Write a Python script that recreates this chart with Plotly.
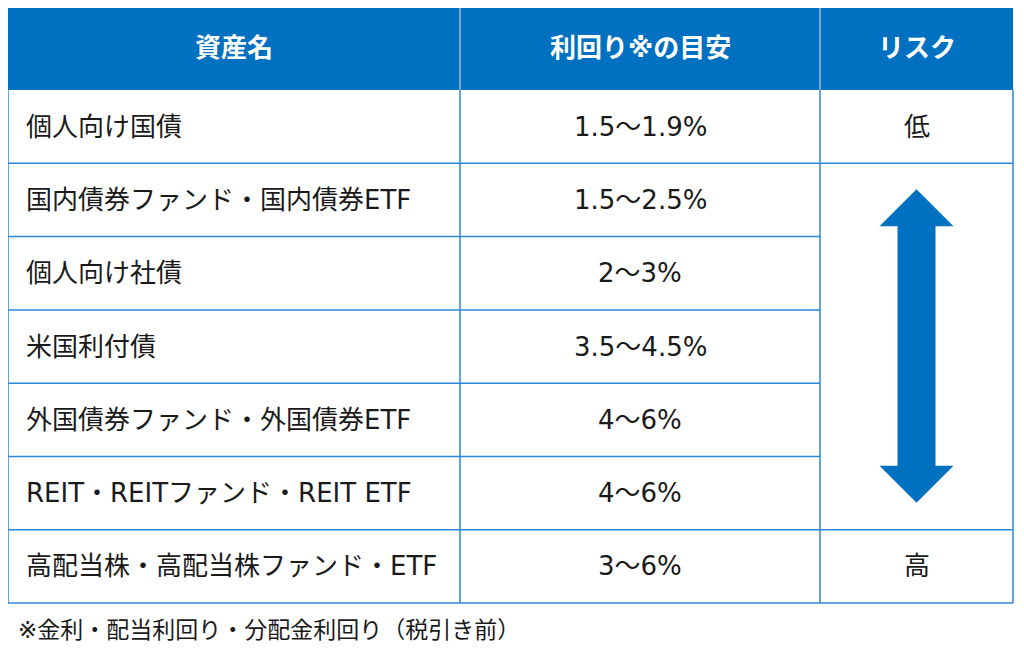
import plotly.graph_objects as go

# ── Table content ────────────────────────────────────────────────────────────
HEADERS = ["資産名", "利回り※の目安", "リスク"]
ASSETS = [
    "個人向け国債",
    "国内債券ファンド・国内債券ETF",
    "個人向け社債",
    "米国利付債",
    "外国債券ファンド・外国債券ETF",
    "REIT・REITファンド・REIT ETF",
    "高配当株・高配当株ファンド・ETF",
]
YIELDS = ["1.5～1.9%", "1.5～2.5%", "2～3%", "3.5～4.5%", "4～6%", "4～6%", "3～6%"]
RISK_LOW = "低"
RISK_HIGH = "高"
FOOTNOTE = "※金利・配当利回り・分配金利回り（税引き前）"

# ── Geometry (page pixel units on both axes) ─────────────────────────────────
PAGE_W, PAGE_H = 1024, 656
BODY_MARGIN = 8                      # default <body> margin of the page
COL_X = [8, 460, 820, 1013]          # column edges
HEAD_TOP, HEAD_BOT = 6, 90
ROW_H = 73.3

HEAD_BLUE = "#0070c0"
LINE_BLUE = "#2b86d6"
HEAD_SEP = "#a9b8c8"
TEXT = "#1a1a1a"
FONT = "DejaVu Sans, Noto Sans CJK JP, sans-serif"
BODY_SIZE = 26
HEAD_SIZE = 26

n = len(ASSETS)
row_top = [HEAD_BOT + i * ROW_H for i in range(n)]
row_bot = [t + ROW_H for t in row_top]
row_mid = [(t + b) / 2 for t, b in zip(row_top, row_bot)]

fig = go.Figure()
shapes = []
annots = []

# header band
shapes.append(dict(type="rect", x0=COL_X[0], x1=COL_X[-1], y0=HEAD_TOP, y1=HEAD_BOT,
                   fillcolor=HEAD_BLUE, line_width=0, layer="below"))
for x in COL_X[1:-1]:
    shapes.append(dict(type="line", x0=x, x1=x, y0=HEAD_TOP, y1=HEAD_BOT,
                       line=dict(color=HEAD_SEP, width=1.5)))
head_mid = (HEAD_TOP + HEAD_BOT) / 2
for i, h in enumerate(HEADERS):
    annots.append(dict(x=(COL_X[i] + COL_X[i + 1]) / 2, y=head_mid, text=f"<b>{h}</b>",
                       showarrow=False, font=dict(size=HEAD_SIZE, color="white", family=FONT)))

# body grid
line = dict(color=LINE_BLUE, width=1.5)
for i in range(n):
    # first two columns: every row boundary
    shapes.append(dict(type="line", x0=COL_X[0], x1=COL_X[2], y0=row_bot[i], y1=row_bot[i], line=line))
# risk column: only around the low / high rows, middle rows merged
for y in (row_bot[0], row_top[-1], row_bot[-1]):
    shapes.append(dict(type="line", x0=COL_X[2], x1=COL_X[3], y0=y, y1=y, line=line))
for x in COL_X:
    shapes.append(dict(type="line", x0=x, x1=x, y0=HEAD_BOT, y1=row_bot[-1], line=line))

body_font = dict(size=BODY_SIZE, color=TEXT, family=FONT)
for i in range(n):
    annots.append(dict(x=COL_X[0] + 16, y=row_mid[i], text=ASSETS[i], xanchor="left",
                       showarrow=False, font=body_font))
    annots.append(dict(x=(COL_X[1] + COL_X[2]) / 2, y=row_mid[i], text=YIELDS[i],
                       showarrow=False, font=body_font))
risk_cx = (COL_X[2] + COL_X[3]) / 2
annots.append(dict(x=risk_cx, y=row_mid[0], text=RISK_LOW, showarrow=False, font=body_font))
annots.append(dict(x=risk_cx, y=row_mid[-1], text=RISK_HIGH, showarrow=False, font=body_font))

# double-headed arrow in merged risk cell
top = row_top[1] + 26
bot = row_bot[-2] - 27
head_h, head_w, shaft_w = 37, 37, 19
p = [
    (risk_cx, top), (risk_cx + head_w, top + head_h), (risk_cx + shaft_w, top + head_h),
    (risk_cx + shaft_w, bot - head_h), (risk_cx + head_w, bot - head_h), (risk_cx, bot),
    (risk_cx - head_w, bot - head_h), (risk_cx - shaft_w, bot - head_h),
    (risk_cx - shaft_w, top + head_h), (risk_cx - head_w, top + head_h),
]
path = "M " + " L ".join(f"{x},{y}" for x, y in p) + " Z"
shapes.append(dict(type="path", path=path, fillcolor=HEAD_BLUE, line_width=0))

# footnote
annots.append(dict(x=COL_X[0] + 8, y=row_bot[-1] + 27, text=FOOTNOTE, xanchor="left",
                   showarrow=False, font=dict(size=23, color=TEXT, family=FONT)))

fig.update_layout(
    width=PAGE_W - 2 * BODY_MARGIN, height=PAGE_H - 2 * BODY_MARGIN,
    margin=dict(l=0, r=0, t=0, b=0),
    paper_bgcolor="white", plot_bgcolor="white",
    xaxis=dict(range=[BODY_MARGIN, PAGE_W - BODY_MARGIN], visible=False, fixedrange=True),
    yaxis=dict(range=[PAGE_H - BODY_MARGIN, BODY_MARGIN], visible=False, fixedrange=True),
    shapes=shapes, annotations=annots, showlegend=False,
)

fig.write_html("out.html", config=dict(displayModeBar=False))
